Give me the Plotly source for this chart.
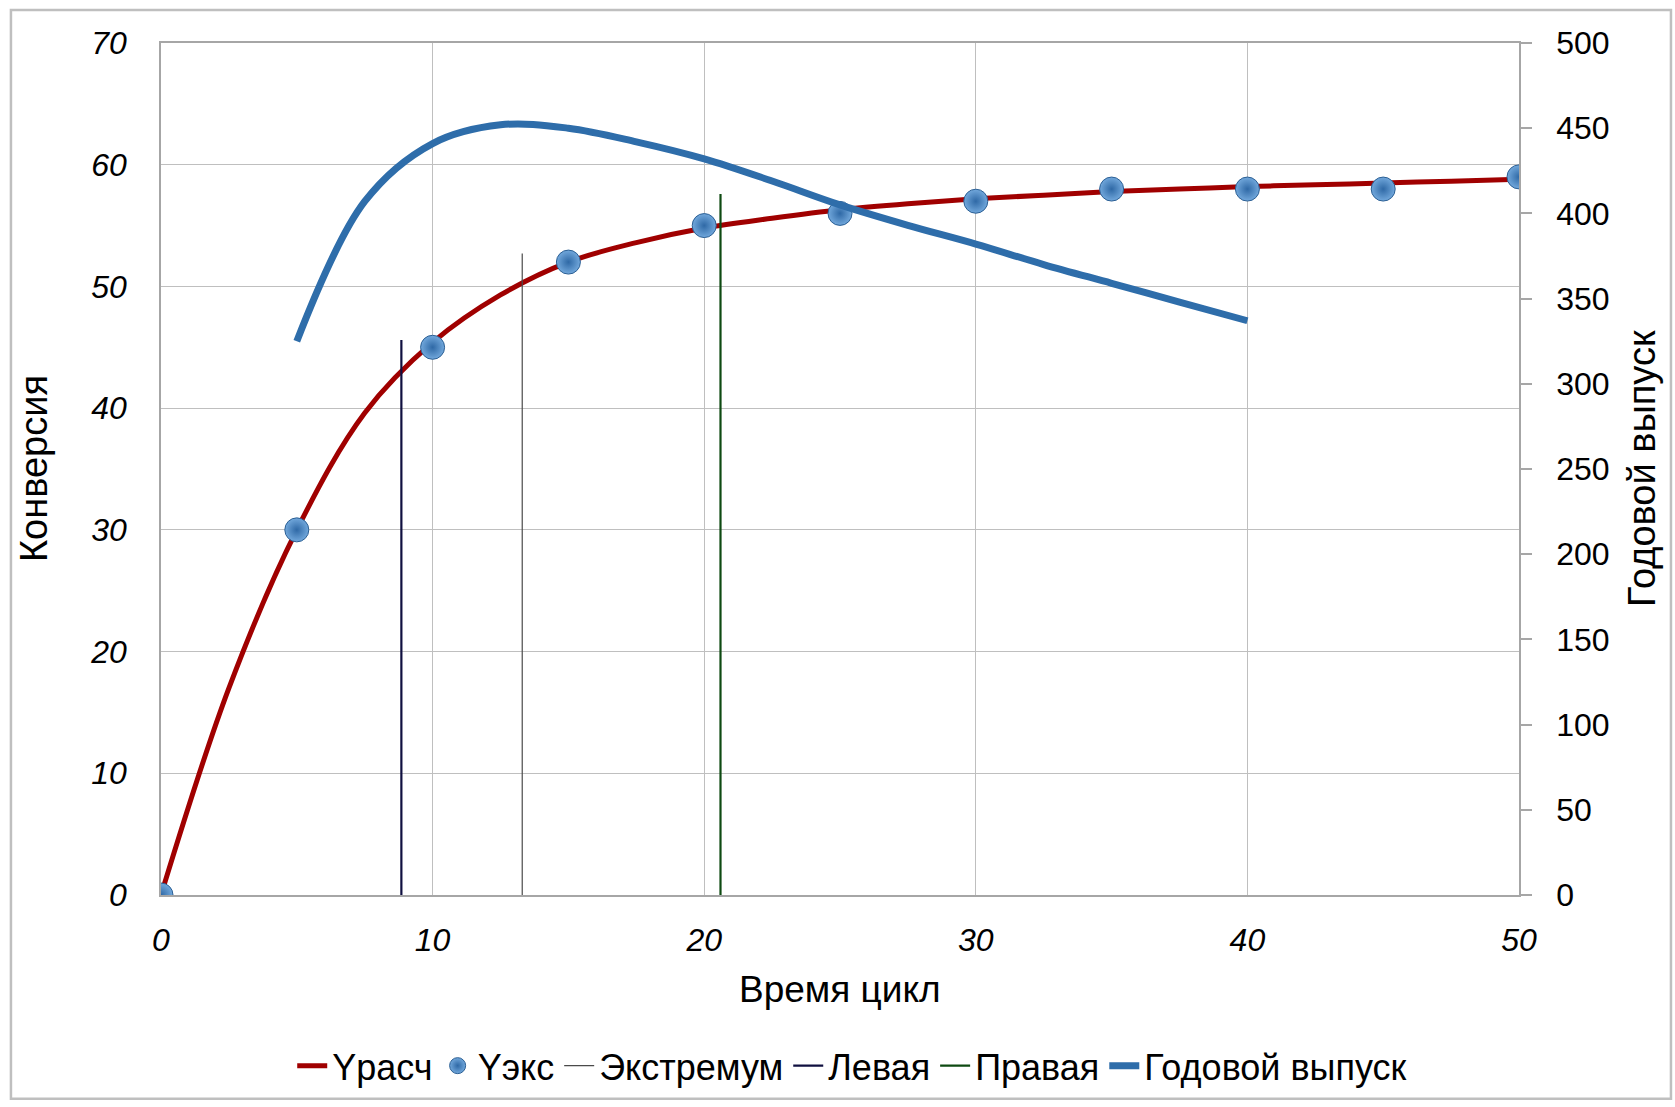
import plotly.graph_objects as go

# ---- data ----
x_calc = [0, 2.5, 5, 7.5, 10, 12.5, 15, 17.5, 20, 22.5, 25, 27.5, 30, 32.5, 35, 37.5, 40, 42.5, 45, 47.5, 50]
y_calc = [0, 17.0, 30, 39.6, 45.4, 49.3, 52.0, 53.6, 54.8, 55.6, 56.3, 56.8, 57.2, 57.5, 57.8, 58.0, 58.2, 58.35, 58.5, 58.65, 58.8]

x_exp = [0, 5, 10, 15, 20, 25, 30, 35, 40, 45, 50]
y_exp = [0, 30, 45, 52, 55, 56, 57, 58, 58, 58, 59]

x_extr = [13.3, 13.3]
y_extr = [0, 52.7]

x_left = [8.85, 8.85]
y_left = [0, 45.6]

x_right = [20.6, 20.6]
y_right = [0, 57.6]

x_out = [5, 7.5, 10, 12.5, 15, 17.5, 20, 22.5, 25, 27.5, 30, 32.5, 35, 37.5, 40]
y_out = [325, 407, 441, 452, 450, 442, 432, 419, 405, 393, 382, 370, 359, 348, 337]

FONT = "Liberation Sans, Arial, sans-serif"
GRID = "#BFBFBF"
FS = 32

fig = go.Figure()
fig.add_trace(go.Scatter(x=x_calc, y=y_calc, mode="lines", name="Yрасч",
                         line=dict(color="#A00000", width=5, shape="spline", smoothing=1.0)))
fig.add_trace(go.Scatter(x=x_exp, y=y_exp, mode="markers", name="Yэкс",
                         marker=dict(size=24, color="#72A8DC",
                                     gradient=dict(type="radial", color="#2F69A6"),
                                     line=dict(width=1, color="#2B5F94"))))
fig.add_trace(go.Scatter(x=x_extr, y=y_extr, mode="lines", name="Экстремум",
                         line=dict(color="#4A4A4A", width=1.2)))
fig.add_trace(go.Scatter(x=x_left, y=y_left, mode="lines", name="Левая",
                         line=dict(color="#101040", width=2.2)))
fig.add_trace(go.Scatter(x=x_right, y=y_right, mode="lines", name="Правая",
                         line=dict(color="#0E4A12", width=2.2)))
fig.add_trace(go.Scatter(x=x_out, y=y_out, mode="lines", name="Годовой выпуск", yaxis="y2",
                         line=dict(color="#2E6DAA", width=7, shape="spline", smoothing=1.0)))

fig.update_layout(
    width=1675, height=1107,
    margin=dict(l=161, r=156, t=43, b=211),
    paper_bgcolor="white", plot_bgcolor="white",
    font=dict(family=FONT, size=FS, color="#000000"),
    showlegend=True,
    legend=dict(orientation="h", x=0.509, xanchor="center", y=-0.199, yanchor="middle",
                font=dict(family=FONT, size=36, color="#000000"),
                itemwidth=30, traceorder="normal"),
    xaxis=dict(range=[0, 50], dtick=10, tick0=0, showgrid=True, gridcolor=GRID, gridwidth=1.2,
               zeroline=False, showline=True, linecolor="#A6A6A6", linewidth=1.5, mirror=True,
               ticks="", ticklabelstandoff=16,
               tickfont=dict(family=FONT, size=FS, style="italic", color="#000000")),
    yaxis=dict(range=[0, 70], dtick=10, tick0=0, showgrid=True, gridcolor=GRID, gridwidth=1.2,
               zeroline=False, showline=True, linecolor="#A6A6A6", linewidth=1.5,
               ticks="", ticklabelstandoff=26,
               tickfont=dict(family=FONT, size=FS, style="italic", color="#000000")),
    yaxis2=dict(range=[0, 500], dtick=50, tick0=0, overlaying="y", side="right",
                showgrid=False, zeroline=False, showline=True, linecolor="#A6A6A6", linewidth=1.5,
                ticks="outside", ticklen=11, tickcolor="#A6A6A6", tickwidth=1.5,
                ticklabelstandoff=18,
                tickfont=dict(family=FONT, size=FS, color="#000000")),
    annotations=[
        dict(text="Время цикл", x=0.5, y=-0.111, xref="paper", yref="paper",
             showarrow=False, xanchor="center", yanchor="middle",
             font=dict(family=FONT, size=37, color="#000000")),
        dict(text="Конверсия", x=-0.0935, y=0.5, xref="paper", yref="paper",
             showarrow=False, xanchor="center", yanchor="middle", textangle=-90,
             font=dict(family=FONT, size=38, color="#000000")),
        dict(text="Годовой выпуск", x=1.0906, y=0.5, xref="paper", yref="paper",
             showarrow=False, xanchor="center", yanchor="middle", textangle=-90,
             font=dict(family=FONT, size=38, color="#000000")),
    ],
    shapes=[
        dict(type="rect", xref="paper", yref="paper",
             x0=-0.1105, x1=1.1119, y0=-0.2392, y1=1.0387,
             line=dict(color="#BFBFBF", width=2.5), fillcolor="rgba(0,0,0,0)", layer="below"),
    ],
)

fig.write_html("out.html")
